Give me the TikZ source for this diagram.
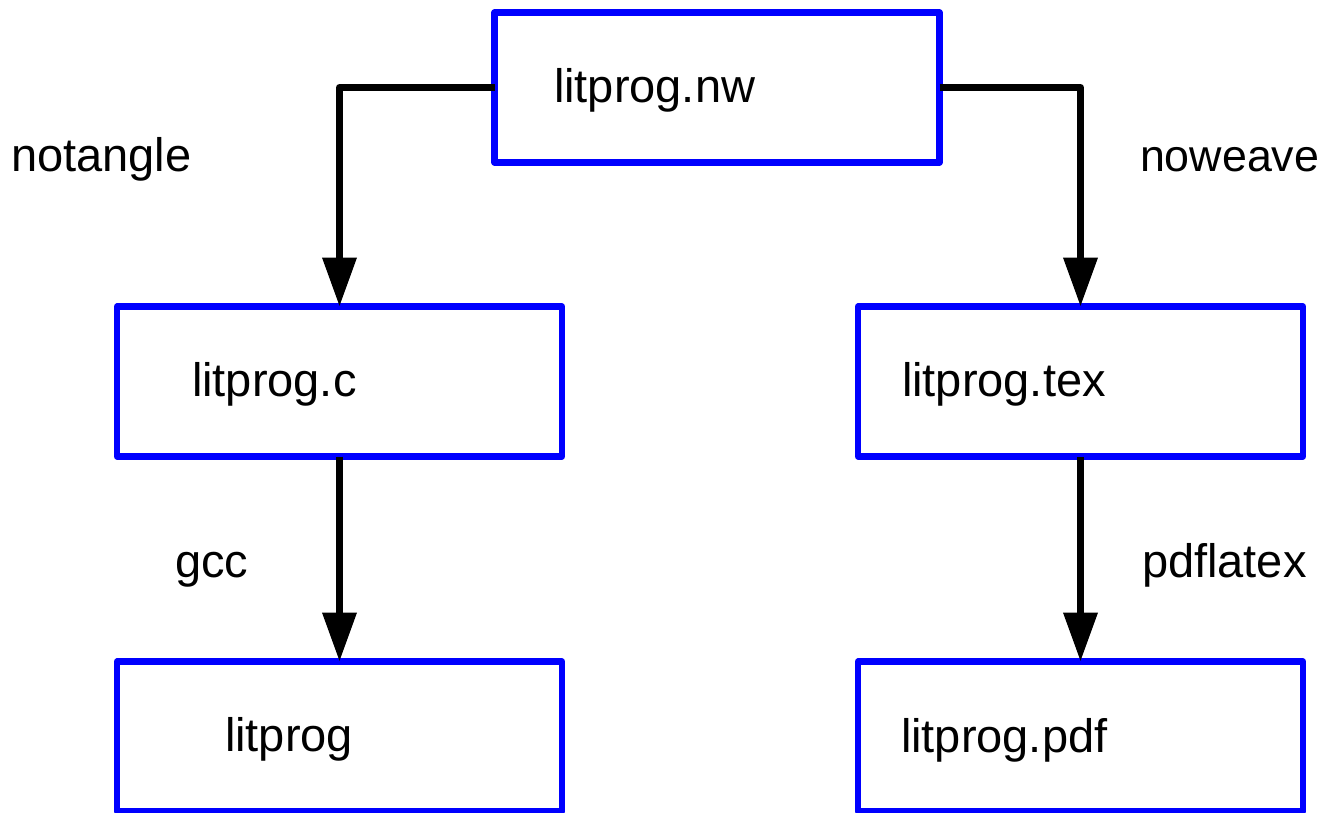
\documentclass[tikz,border=0pt]{standalone}
\usepackage{fontspec}
\setmainfont{Liberation Sans}
\usetikzlibrary{arrows.meta}

\definecolor{fileblue}{RGB}{0,0,255}
\tikzset{
  filebox/.style={draw=fileblue, line width=3.2pt, line join=round,
    minimum width=222.5pt, minimum height=75pt, inner sep=0pt, outer sep=0pt},
  txt/.style={anchor=base west, inner sep=0pt, outer sep=0pt,
    font=\fontsize{23.5}{28}\selectfont},
  conn/.style={draw=black, line width=3.5pt, line join=round,
    -{Triangle[length=24.5pt,width=16.5pt]}}
}

\begin{document}
\begin{tikzpicture}[x=0.5pt, y=-0.5pt]
  \useasboundingbox (0,0) rectangle (1324,813);

  % files
  \node[filebox] (nw)  at (717,87.5)  {};
  \node[filebox] (c)   at (339.5,381.5) {};
  \node[filebox] (tex) at (1080.5,381.5) {};
  \node[filebox] (bin) at (339.5,736.5) {};
  \node[filebox] (pdf) at (1080.5,736.5) {};

  % file names
  \node[txt] (nwname)  at (554,103) {litprog.nw};
  \node[txt] (cname)   at (192,396) {litprog.c};
  \node[txt] (texname) at (902,396) {litprog.tex};
  \node[txt] (binname) at (225,751) {litprog};
  \node[txt] (pdfname) at (901,752) {litprog.pdf};

  % tools
  \node[txt] (tangle) at (11,172)   {notangle};
  \node[txt, font=\fontsize{22.4}{27}\selectfont] (weave) at (1140,172) {noweave};
  \node[txt] (cc)     at (175,577)  {gcc};
  \node[txt] (latex)  at (1142,577) {pdflatex};

  % processing steps
  \draw[conn] (nw.west) -| (c.north);
  \draw[conn] (nw.east) -| (tex.north);
  \draw[conn] (c.south) -- (bin.north);
  \draw[conn] (tex.south) -- (pdf.north);
\end{tikzpicture}
\end{document}
